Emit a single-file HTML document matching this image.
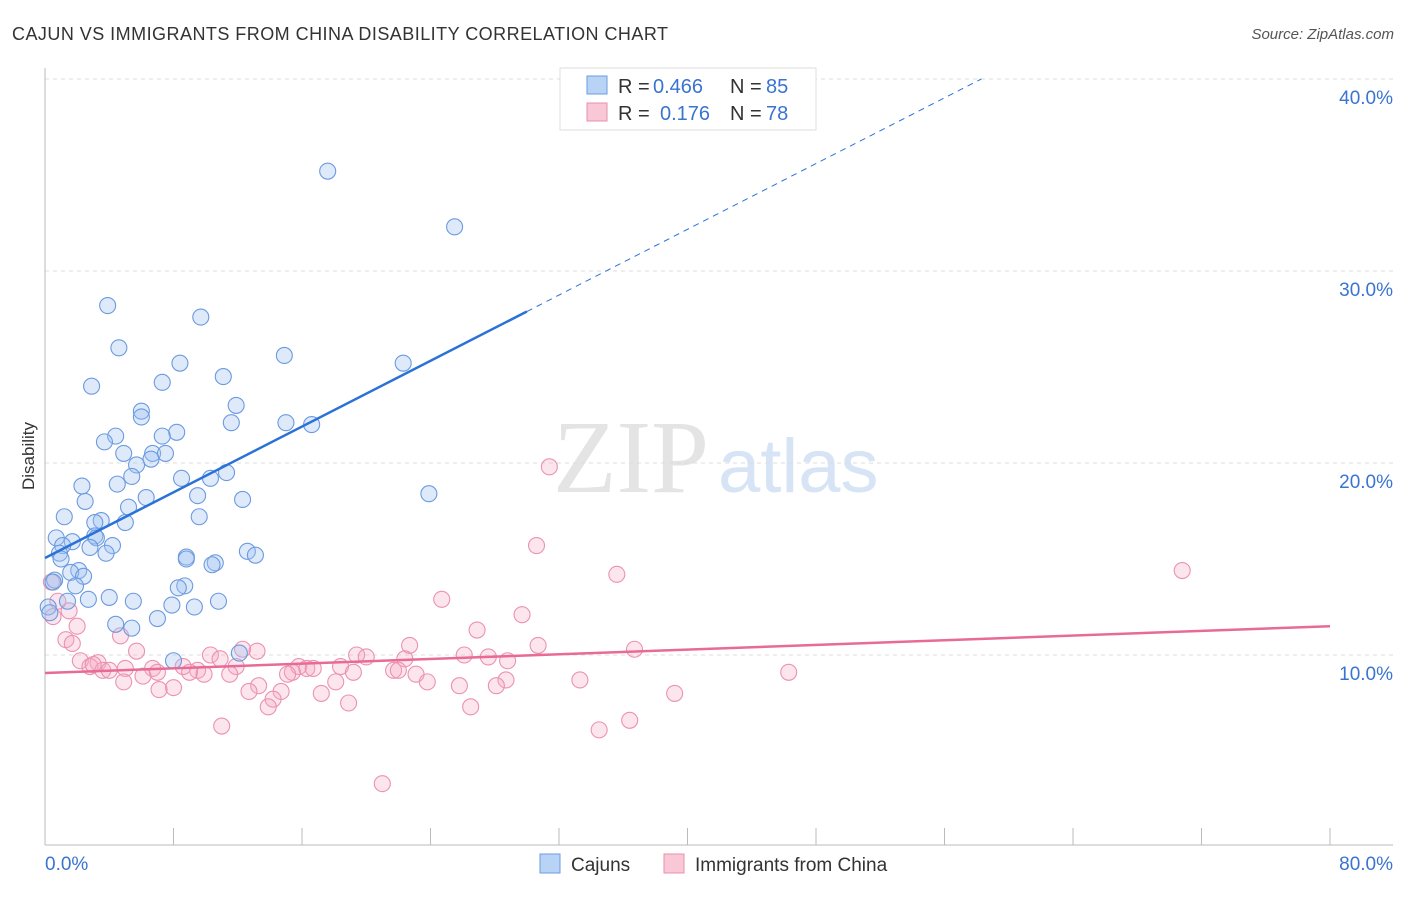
<!DOCTYPE html>
<html><head><meta charset="utf-8"><style>
body{margin:0;background:#fff;font-family:"Liberation Sans",sans-serif}
</style></head><body>
<svg id="c" width="1406" height="892" xmlns="http://www.w3.org/2000/svg" font-family="Liberation Sans, sans-serif">
<text x="12" y="40" font-size="18" fill="#333" textLength="656">CAJUN VS IMMIGRANTS FROM CHINA DISABILITY CORRELATION CHART</text>
<text x="1394" y="39" font-size="15" fill="#555" font-style="italic" text-anchor="end">Source: ZipAtlas.com</text>
<text x="553" y="492" font-size="104" fill="#e4e4e4" font-family="Liberation Serif, serif">ZIP</text>
<text x="718" y="492" font-size="76" fill="#d6e4f5">atlas</text>
<g id="grid"></g><g id="axes"></g><g id="pink"></g><g id="blue"></g><g id="lines"></g>
<text transform="translate(34,456) rotate(-90)" font-size="17" fill="#333" text-anchor="middle">Disability</text>
<g>
<rect x="560" y="68" width="256" height="62" fill="#fff" stroke="#ddd"/>
<rect x="587" y="76" width="20" height="18" fill="#b8d3f5" stroke="#6b9ee0"/>
<rect x="587" y="103" width="20" height="18" fill="#f9c8d6" stroke="#ea8fac"/>
<text x="618" y="93" font-size="20" fill="#333">R =</text>
<text x="653" y="93" font-size="20" fill="#3a74d0">0.466</text>
<text x="730" y="93" font-size="20" fill="#333">N =</text>
<text x="766" y="93" font-size="20" fill="#3a74d0">85</text>
<text x="618" y="120" font-size="20" fill="#333">R =</text>
<text x="660" y="120" font-size="20" fill="#3a74d0">0.176</text>
<text x="730" y="120" font-size="20" fill="#333">N =</text>
<text x="766" y="120" font-size="20" fill="#3a74d0">78</text>
</g>
<g>
<rect x="540" y="854" width="20" height="19" fill="#b8d3f5" stroke="#6b9ee0"/>
<text x="571" y="871" font-size="19" fill="#333">Cajuns</text>
<rect x="664" y="854" width="20" height="19" fill="#f9c8d6" stroke="#ea8fac"/>
<text x="695" y="871" font-size="19" fill="#333">Immigrants from China</text>
</g>
</svg>
<script>
const yTicks=[10,20,30,40];
const yTickLabels=["10.0%","20.0%","30.0%","40.0%"];
const xTicks=[0,8,16,24,32,40,48,56,64,72,80];
const blueX=[17.6,25.5,3.9,9.7,4.6,14.9,22.3,8.4,2.9,7.3,11.1,11.9,6.0,6.0,11.6,15.0,16.6,8.2,7.3,4.4,3.7,6.7,7.5,4.9,6.6,5.7,11.3,10.3,8.5,5.4,4.5,2.3,23.9,9.5,6.3,12.3,2.5,5.2,1.2,9.6,3.5,3.1,5.0,3.1,3.2,0.7,1.7,1.1,4.2,2.8,12.6,0.9,3.8,13.1,8.8,8.8,10.6,10.4,2.1,1.6,2.4,0.6,1.9,8.7,8.3,4.0,2.7,5.5,1.4,10.8,7.9,9.3,0.2,7.0,4.4,5.4,12.1,8.0,0.5,0.3,1.0];
const blueY=[35.2,32.3,28.2,27.6,26.0,25.6,25.2,25.2,24.0,24.2,24.5,23.0,22.7,22.4,22.1,22.1,22.0,21.6,21.4,21.4,21.1,20.5,20.5,20.5,20.2,19.9,19.5,19.2,19.2,19.3,18.9,18.8,18.4,18.3,18.2,18.1,18.0,17.7,17.2,17.2,17.0,16.9,16.9,16.2,16.1,16.1,15.9,15.7,15.7,15.6,15.4,15.3,15.3,15.2,15.1,15.0,14.8,14.7,14.4,14.3,14.1,13.9,13.6,13.6,13.5,13.0,12.9,12.8,12.8,12.8,12.6,12.5,12.5,11.9,11.6,11.4,10.1,9.7,13.8,12.2,15.0];
const pinkX=[31.4,30.6,35.6,70.8,24.7,29.7,26.9,0.5,4.7,1.3,1.7,22.7,30.7,36.7,12.3,13.2,5.7,19.4,20.0,10.3,26.1,10.9,22.4,27.6,28.8,2.2,3.3,2.8,15.8,16.3,16.7,18.4,8.6,6.7,9.5,11.9,3.6,5.0,7.0,15.4,21.7,22.0,9.0,9.9,11.5,15.1,46.3,23.1,19.2,6.1,4.9,18.1,23.8,28.7,33.3,13.3,25.8,28.1,8.0,7.1,12.7,14.7,17.2,39.2,14.2,13.9,18.9,26.5,36.4,11.0,34.5,21.0,0.4,1.5,2.0,0.8,3.0,4.0];
const pinkY=[19.8,15.7,14.2,14.4,12.9,12.1,11.3,12.0,11.0,10.8,10.6,10.5,10.5,10.3,10.3,10.2,10.2,10.0,9.9,10.0,10.0,9.8,9.8,9.9,9.7,9.7,9.6,9.4,9.4,9.3,9.3,9.4,9.4,9.3,9.2,9.4,9.2,9.3,9.1,9.1,9.2,9.2,9.1,9.0,9.0,9.0,9.1,9.0,9.1,8.9,8.6,8.6,8.6,8.7,8.7,8.4,8.4,8.4,8.3,8.2,8.1,8.1,8.0,8.0,7.7,7.3,7.5,7.3,6.6,6.3,6.1,3.3,13.8,12.3,11.5,12.8,9.5,9.2];
const blueLine=[15.05,0.428];
const pinkLine=[9.06,11.5];
const X=v=>45+v*(1285/80), Y=v=>847-v*19.2;
const NS="http://www.w3.org/2000/svg";
function mk(p,t,a){const e=document.createElementNS(NS,t);for(const k in a)e.setAttribute(k,a[k]);document.getElementById(p).appendChild(e);return e;}
yTicks.forEach((t,i)=>{
 const l=mk('grid','line',{x1:45,x2:1393,y1:Y(t),y2:Y(t),stroke:'#ddd','stroke-dasharray':'4,4'});
 
 
 const tx=mk('axes','text',{x:1393,y:Y(t)+25,'font-size':19,fill:'#3a74d0','text-anchor':'end'});
 tx.textContent=yTickLabels[i];
 
 
});
const ax=mk('axes','line',{x1:45,x2:1393,y1:845,y2:845,stroke:'#bbb'});


const ay=mk('axes','line',{x1:45,x2:45,y1:68,y2:845,stroke:'#bbb'});


xTicks.forEach(t=>{const l=mk('axes','line',{x1:X(t),x2:X(t),y1:828,y2:845,stroke:'#bbb'});
 
 });
[["0.0%",45,'start'],["80.0%",1393,'end']].forEach(d=>{const t=mk('axes','text',{x:d[1],y:870,'font-size':19,fill:'#3a74d0','text-anchor':d[2]});t.textContent=d[0];
 
 });
pinkX.forEach((x,i)=>{const c=mk('pink','circle',{cx:X(x),cy:Y(pinkY[i]),r:8,fill:'rgba(245,170,195,0.3)',stroke:'#eb92b0','stroke-width':1.1});
 
 });
blueX.forEach((x,i)=>{const c=mk('blue','circle',{cx:X(x),cy:Y(blueY[i]),r:8,fill:'rgba(160,195,240,0.35)',stroke:'#6b9ae0','stroke-width':1.1});
 
 });
const bf=x=>blueLine[0]+blueLine[1]*x;
const xe=(40-blueLine[0])/blueLine[1];
const b1=mk('lines','line',{x1:X(0),y1:Y(bf(0)),x2:X(30),y2:Y(bf(30)),stroke:'#2a72d8','stroke-width':2.5});


const b2=mk('lines','line',{x1:X(30),y1:Y(bf(30)),x2:X(xe),y2:Y(40),stroke:'#2a72d8','stroke-width':1,'stroke-dasharray':'6,5'});


const p1=mk('lines','line',{x1:X(0),y1:Y(pinkLine[0]),x2:X(80),y2:Y(pinkLine[1]),stroke:'#e86a96','stroke-width':2.5});


</script>
</body></html>
